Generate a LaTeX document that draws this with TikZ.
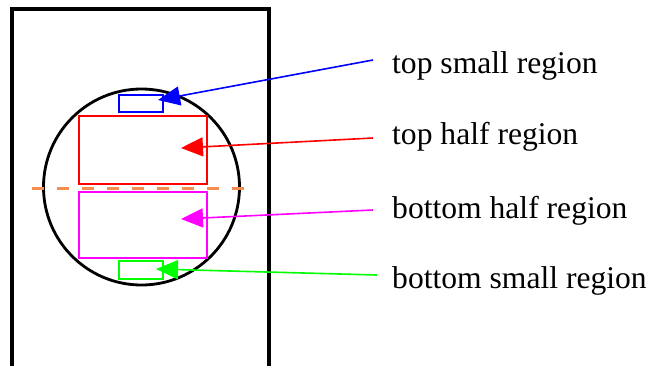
\documentclass[tikz,border=0pt]{standalone}
\usepackage{fontspec}
\setmainfont{Liberation Serif}
\usetikzlibrary{arrows.meta}
\definecolor{dashorange}{RGB}{245,140,80}
\definecolor{myblue}{RGB}{0,0,255}
\definecolor{myred}{RGB}{255,0,0}
\definecolor{mymag}{RGB}{255,0,255}
\definecolor{mygreen}{RGB}{0,255,0}
\begin{document}
\begin{tikzpicture}[x=1pt,y=-1pt,
  regionbox/.style={draw,line width=1.5pt,inner sep=0pt},
  lbl/.style={anchor=base west,inner sep=0pt,font=\fontsize{31.6}{38}\selectfont},
  pointer/.style={line width=1.6pt,-{Triangle[length=22pt,width=19pt]}}]
\useasboundingbox (0,0) rectangle (653,365);
% frame
\draw[line width=3.2pt] (12,370) -- (12,9) -- (269,9) -- (269,370);
% circle
\draw[line width=2.8pt] (141.5,187) circle (98);
% dashed line
\draw[dashorange,line width=3pt,dash pattern=on 12pt off 13pt] (32,188) -- (250,188);
% regions
\node[regionbox,myblue,minimum width=44pt,minimum height=17pt] (ts) at (141,103.5) {};
\node[regionbox,myred,minimum width=128pt,minimum height=68pt] (th) at (143,150) {};
\node[regionbox,mymag,minimum width=128pt,minimum height=66pt] (bh) at (143,225) {};
\node[regionbox,mygreen,minimum width=44pt,minimum height=18pt] (bs) at (141,270) {};
% labels
\node[lbl] (lts) at (392,73) {top small region};
\node[lbl] (lth) at (392,144) {top half region};
\node[lbl] (lbh) at (392,218) {bottom half region};
\node[lbl] (lbs) at (392,288) {bottom small region};
% arrow anchors
\coordinate (sts) at (373,60);
\coordinate (sth) at (373,138);
\coordinate (sbh) at (373,210);
\coordinate (sbs) at (377,275);
\coordinate (tts) at (158,100);
\coordinate (tth) at (181,148);
\coordinate (tbh) at (181,219);
\coordinate (tbs) at (156,269);
\draw[pointer,myblue] (sts) -- (tts);
\draw[pointer,myred] (sth) -- (tth);
\draw[pointer,mymag] (sbh) -- (tbh);
\draw[pointer,mygreen] (sbs) -- (tbs);
\end{tikzpicture}
\end{document}
